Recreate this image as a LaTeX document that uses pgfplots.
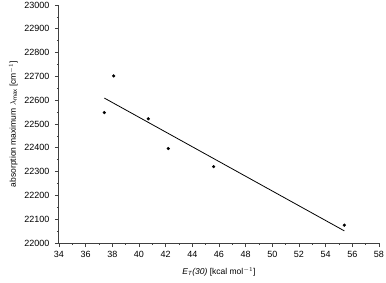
\documentclass[border=0pt]{standalone}
\usepackage{fontspec}
\setmainfont{Liberation Sans}
\usepackage{pgfplots}
\pgfplotsset{compat=1.18}
\begin{document}
\begin{tikzpicture}
\begin{axis}[
  name=ax,
  at={(0pt,0pt)}, anchor=origin,
  scale only axis,
  width=320pt, height=238pt,
  xmin=34, xmax=58, ymin=22000, ymax=23000,
  axis x line*=bottom, axis y line*=left,
  axis line style={line width=1pt, color=black!75},
  xtick={34,36,...,58}, ytick={22000,22100,...,23000},
  scaled ticks=false,
  minor x tick num=1, minor y tick num=1,
  tick align=outside,
  major tick length=4pt, minor tick length=2pt,
  tick style={line width=0.8pt, color=black!75},
  /pgf/number format/assume math mode=true,
  /pgf/number format/1000 sep={},
  xticklabel style={font=\fontsize{9}{11}\selectfont, yshift=-1pt},
  yticklabel style={font=\fontsize{9}{11}\selectfont, xshift=-2pt},
  label style={font=\fontsize{8.5}{10}\selectfont},
  xlabel={\textit{E}$_{\mathit{T}}$\textit{(30)} [kcal mol$^{-1}$]},
  ylabel={absorption maximum $\lambda_{\mathrm{max}}$ [cm$^{-1}$]},
  xlabel style={yshift=-3pt},
  ylabel style={yshift=0pt},
  clip=false,
]
\addplot[only marks, mark=*, mark size=1.4pt, black] coordinates {
  (37.4,22548) (38.1,22702) (40.7,22522) (42.2,22397) (45.6,22321) (55.4,22075)
};
\addplot[no marks, black, line width=0.8pt] coordinates {
  (37.4,22609) (55.4,22051)
};
\end{axis}
\pgfresetboundingbox
\path[use as bounding box] (-59pt,-39pt) rectangle (327pt,243pt);
\end{tikzpicture}
\end{document}
